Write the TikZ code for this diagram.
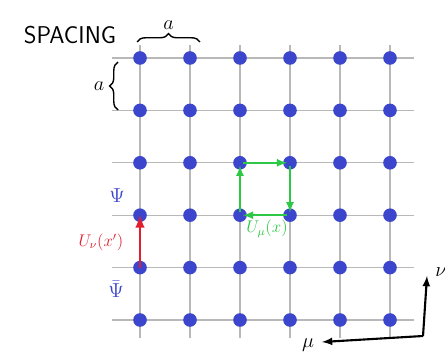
\documentclass[tikz,border=0pt]{standalone}
\usetikzlibrary{decorations.pathreplacing}
\definecolor{siteblue}{RGB}{60,70,205}
\definecolor{plaqgreen}{RGB}{45,200,70}
\definecolor{linkred}{RGB}{225,30,45}
\begin{document}
\begin{tikzpicture}[x=0.025cm,y=-0.025cm,
  site/.style={circle,fill=siteblue,inner sep=0pt,minimum size=0.34cm},
  gridline/.style={line width=0.8,black!28},
  plaq/.style={-latex,line width=1.5,plaqgreen,shorten <=2pt,shorten >=2pt}]
\useasboundingbox (0,0) rectangle (445,352);
\foreach \j in {1,...,6}
  \draw [gridline] (112,{5.6+52.4*\j}) -- (414,{5.6+52.4*\j});
\foreach \i in {1,...,6}
  \draw [gridline] ({90+50*\i},45) -- ({90+50*\i},338);
\foreach \i in {1,...,6}
  \foreach \j in {1,...,6}
    \node [site] (s-\i-\j) at ({90+50*\i},{5.6+52.4*\j}) {};

\node (spacing) at (70,35) [font=\LARGE\sffamily] {SPACING};
\draw [decorate,decoration={brace,amplitude=6pt},line width=1] (137,42) -- (200,42)
  node (topa) [midway,above=5pt] {\Large$a$};
\draw [decorate,decoration={brace,amplitude=6pt},line width=1] (118,110) -- (118,62)
  node (lefta) [midway,left=6pt] {\Large$a$};

\draw [-latex,line width=2,linkred] (s-1-5.center) -- (s-1-4.center);
\node (unu) at (101,242) [linkred] {\large$U_\nu(x')$};
\node (psi) at (117,196) [siteblue,inner sep=1pt] {\Large$\Psi$};
\node (psibar) at (116,289) [siteblue,inner sep=1pt] {\Large$\bar{\Psi}$};

\draw [plaq] (s-3-4.center) -- (s-3-3.center);
\draw [plaq] (s-3-3.center) -- (s-4-3.center);
\draw [plaq] (s-4-3.center) -- (s-4-4.center);
\draw [plaq] (s-4-4.center) -- (s-3-4.center);
\node (umu) at (267,229) [plaqgreen] {\large$U_\mu(x)$};

\coordinate (axis-o) at (423,336);
\coordinate (axis-nu) at (427,276);
\coordinate (axis-mu) at (322,342);
\draw [-latex,line width=1.5] (axis-o) -- (axis-nu);
\draw [-latex,line width=1.5] (axis-o) -- (axis-mu);
\node (nu) at (441,272) {\Large$\nu$};
\node (mu) at (308,345) {\Large$\mu$};
\end{tikzpicture}
\end{document}
